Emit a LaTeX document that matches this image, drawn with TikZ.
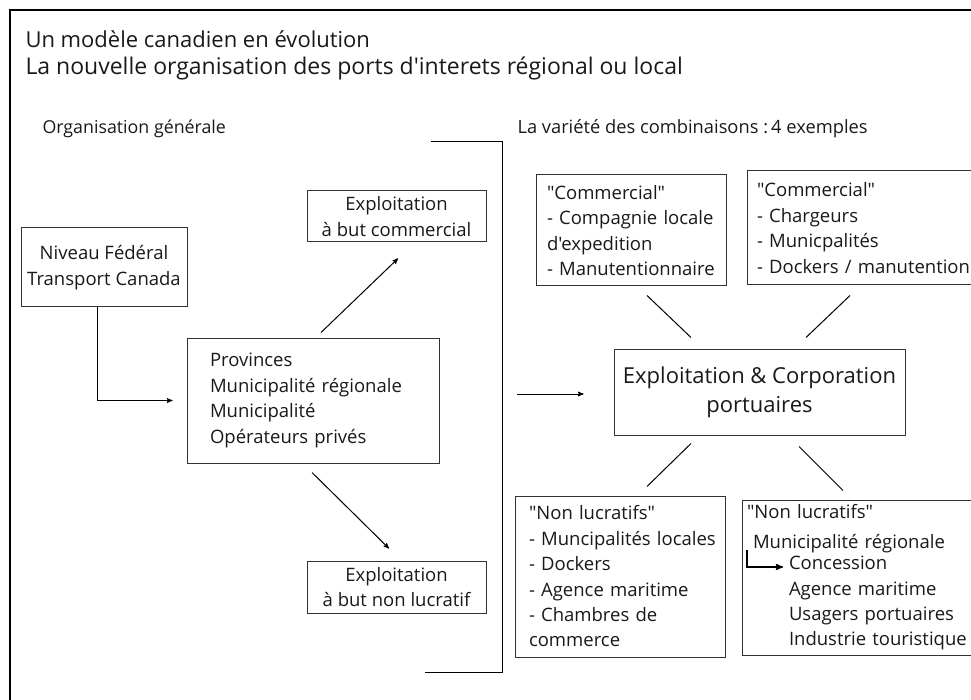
\documentclass[tikz,border=0pt]{standalone}
\usepackage{fontspec}
\setmainfont{Open Sans}[Ligatures=TeXOff]
\usetikzlibrary{arrows,positioning}
\hyphenpenalty=10000
\exhyphenpenalty=10000

\begin{document}
\begin{tikzpicture}[->, >=stealth', x=1pt, y=-1pt, line width=1pt]
\tikzstyle{box}=[draw=black!80, text=black!90, inner ysep=0pt, font=\fontsize{18.5}{25.4}\selectfont]
\tikzstyle{head}=[anchor=base west, inner sep=0pt, text=black!90]
\useasboundingbox (0,0) rectangle (971,700);
\clip (0,0) rectangle (971,700);

% frame and titles
\draw[-, line width=2pt] (10,702) -- (10,10) -- (973,10);
\node[head, font=\fontsize{22}{26}\selectfont] (t1) at (25,48) {Un modèle canadien en évolution};
\node[head, font=\fontsize{23}{26}\selectfont] (t2) at (25,75) {La nouvelle organisation des ports d'interets régional ou local};
\node[head, font=\fontsize{17.8}{24}\selectfont] (h1) at (42,134) {Organisation générale};
\node[head, font=\fontsize{18.3}{24}\selectfont] (h2) at (517,134) {La variété des combinaisons :\,4 exemples};

% left part
\node[box, minimum width=166, minimum height=79, align=center] (fed) at (104,267.5) {Niveau Fédéral\\Transport Canada};
\node[box, minimum height=125, text width=206, inner xsep=23, align=left] (prov) at (313,400.5) {Provinces\\Municipalité régionale\\Municipalité\\Opérateurs privés};
\node[box, minimum width=179, minimum height=51, align=center] (com) at (396.5,216.5) {Exploitation\\à but commercial};
\node[box, minimum width=179, minimum height=52, align=center] (nonlu) at (396.5,587) {Exploitation\\à but non lucratif};

\draw ([xshift=-7pt]fed.south) |- ([xshift=-14pt]prov.west);
\draw ([xshift=8pt,yshift=5pt]prov.north) -- ([xshift=1.5pt,yshift=-16pt]com.south);
\draw ([xshift=-1pt,yshift=-9pt]prov.south) -- ([xshift=-7.5pt,yshift=12pt]nonlu.north);

\draw[-] (431,142) -- (502,142) -- (502,672) -- (425,672);

% right part
\node[box, minimum width=291, minimum height=86, align=center, font=\fontsize{22}{29}\selectfont] (corp) at (759.5,392) {Exploitation \& Corporation\\portuaires};
\node[box, minimum height=111, text width=168, inner xsep=11, align=left] (c1) at (631,230.5) {"Commercial"\\-~Compagnie~locale\\d'expedition\\-~Manutentionnaire};
\node[box, minimum height=114, text width=208, inner xsep=10, align=left] (c2) at (861,228) {"Commercial"\\-~Chargeurs\\-~Municpalités\\-~Dockers~/~manutention};
\node[box, minimum height=161, text width=182, inner xsep=14, align=left] (n1) at (620,576.5) {"Non lucratifs"\\-~Muncipalités~locales\\-~Dockers\\-~Agence~maritime\\-~Chambres~de\\commerce};
\node[box, minimum height=155, text width=223, inner xsep=5, align=left] (n2) at (858.5,577.5) {"Non lucratifs"\\[4pt]\hspace*{6pt}Municipalité~régionale\\[-4pt]\hspace*{42pt}Concession\\\hspace*{42pt}Agence~maritime\\\hspace*{42pt}Usagers~portuaires\\\hspace*{42pt}Industrie~touristique};

\coordinate (brk) at (517,394);
\coordinate (mr) at (747,550);
\coordinate (cs) at (783,567);
\draw (brk) -- ([xshift=-30pt]brk -| corp.west);
\draw[line width=1.5pt] (mr) |- (cs);

\path[-]
([xshift=16pt,yshift=-9pt]c1.south) edge ([xshift=-68.5pt,yshift=11pt]corp.north)
([xshift=-11pt,yshift=-10pt]c2.south) edge ([xshift=46.5pt,yshift=11pt]corp.north)
([xshift=-68.5pt,yshift=-8pt]corp.south) edge ([xshift=27pt,yshift=9pt]n1.north)
([xshift=39.5pt,yshift=-11pt]corp.south) edge ([xshift=-15.5pt,yshift=9pt]n2.north);

\end{tikzpicture}
\end{document}
